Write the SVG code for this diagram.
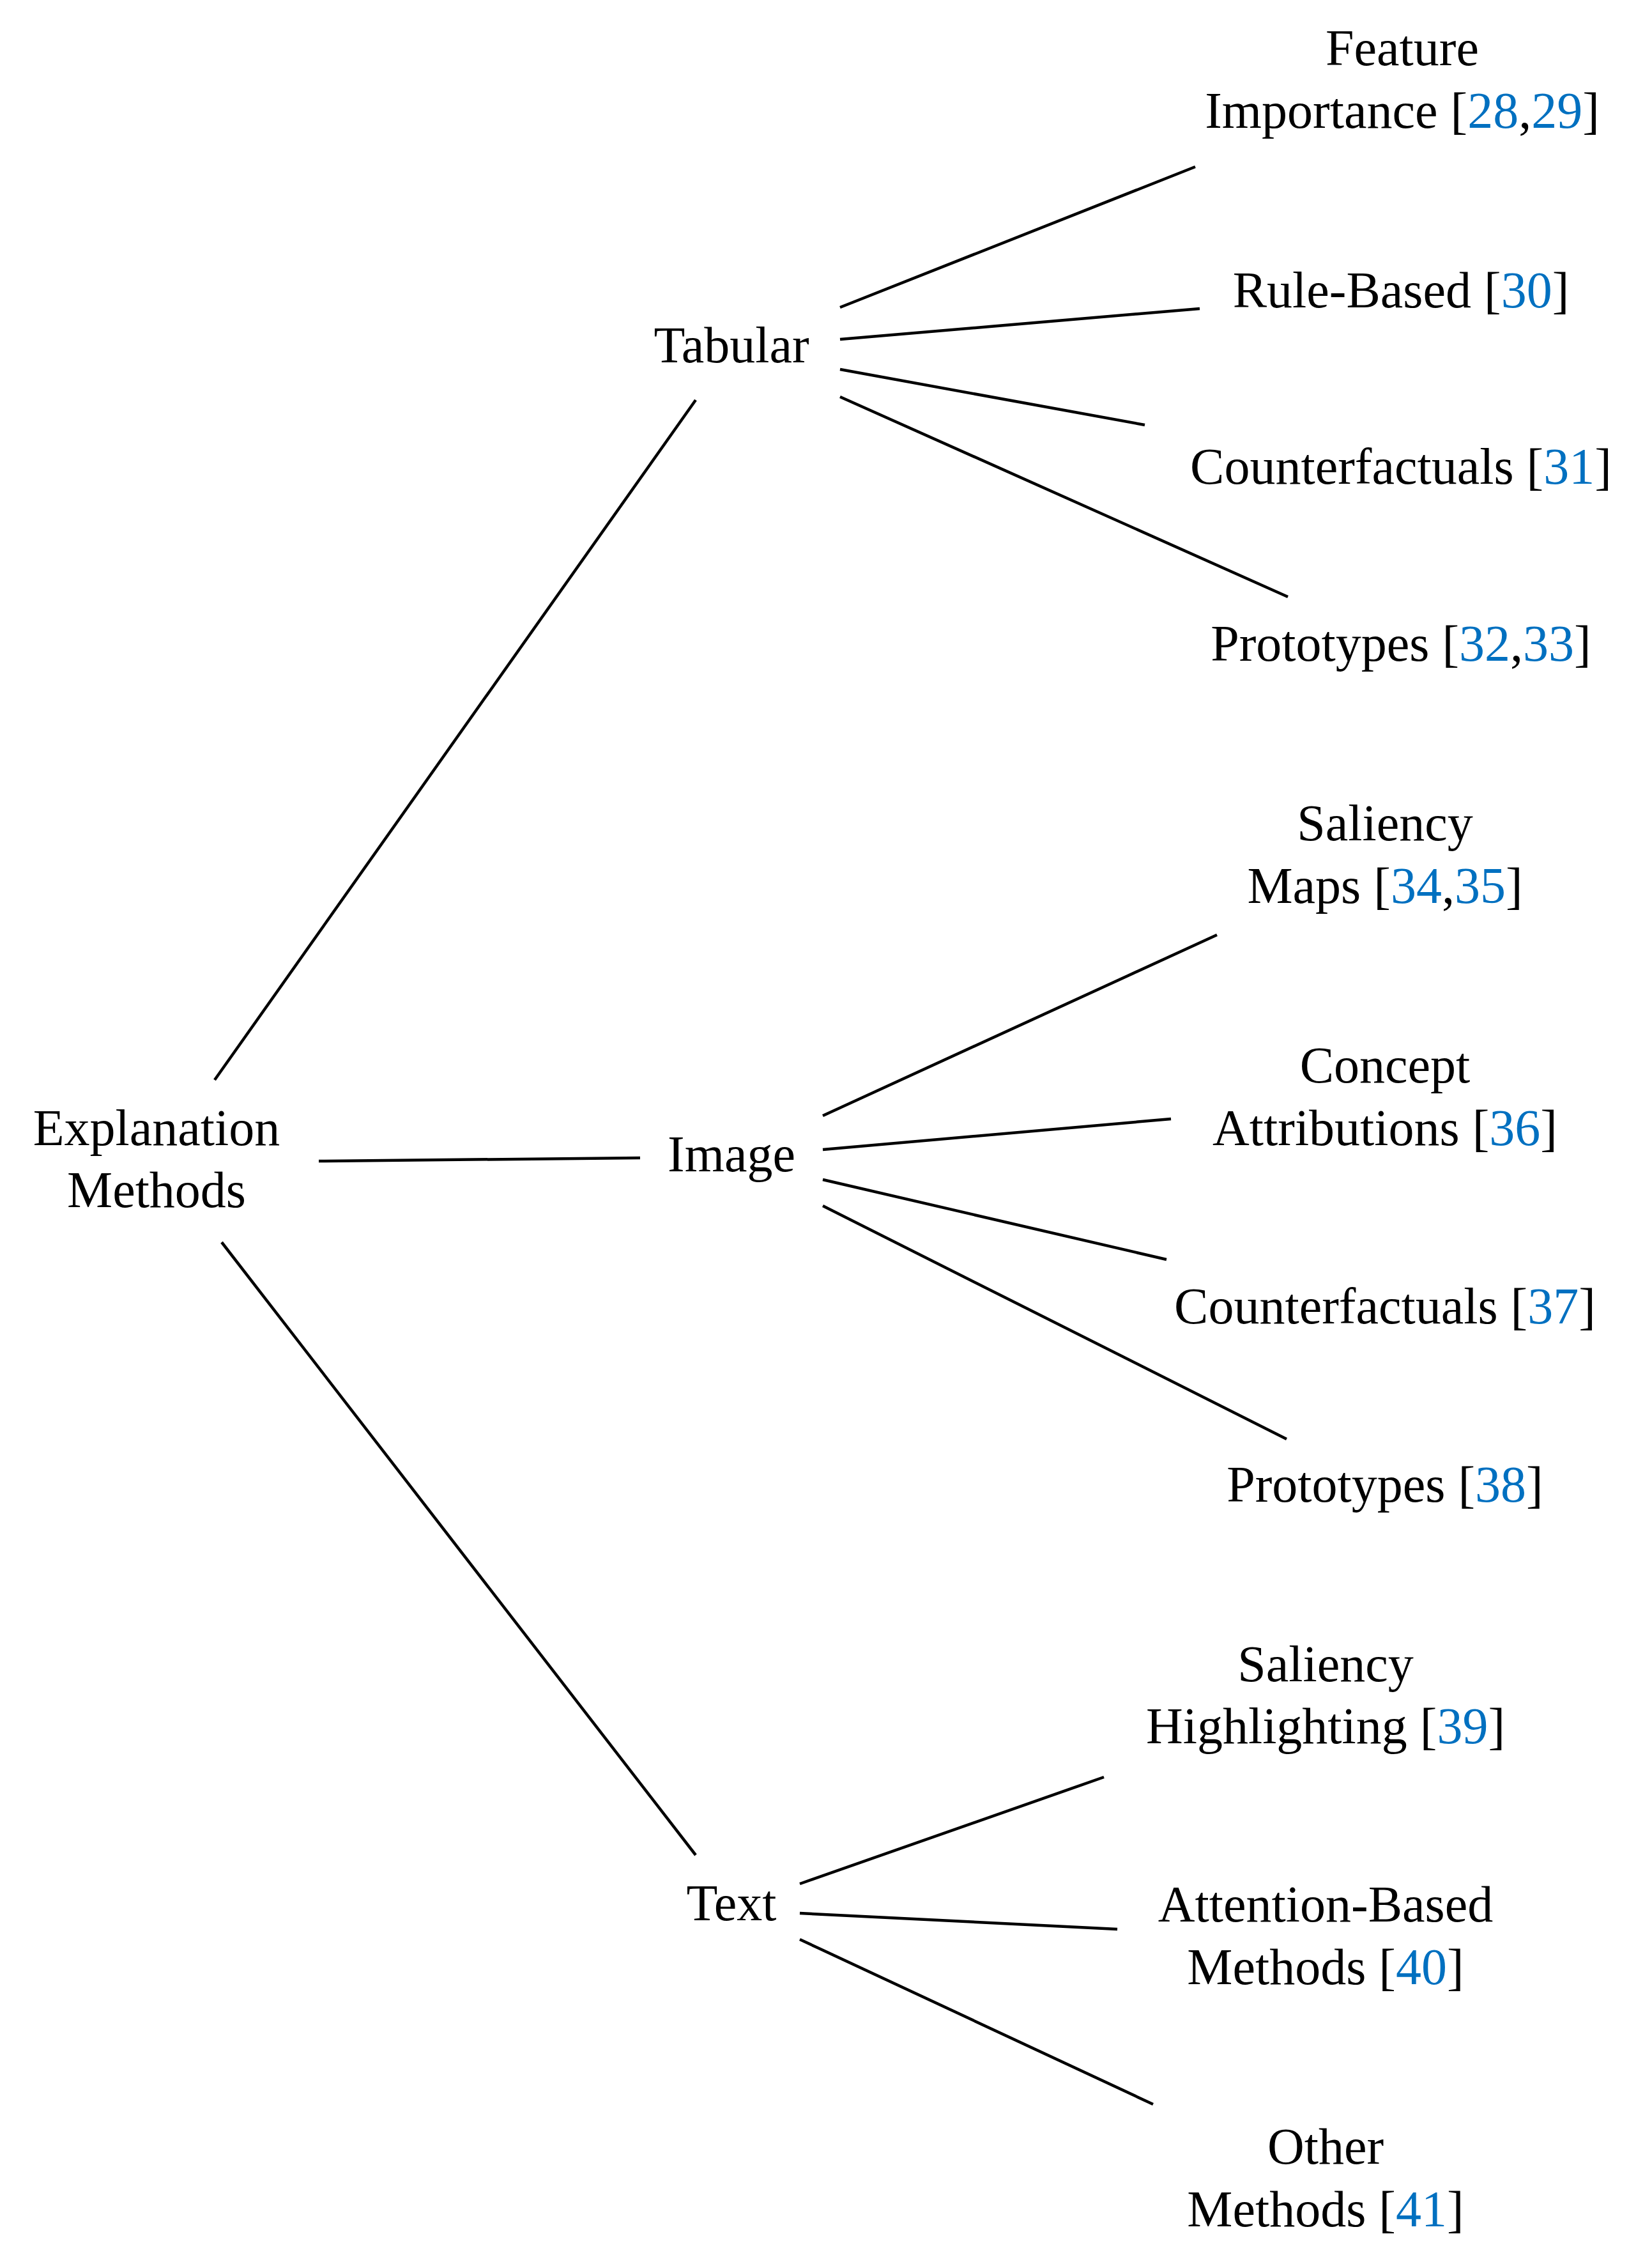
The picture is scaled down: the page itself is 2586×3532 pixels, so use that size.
<svg xmlns="http://www.w3.org/2000/svg" width="2586" height="3532" viewBox="0 0 2586 3532">
<style>
text{font-family:"Liberation Serif","Times New Roman",serif;font-size:80px;fill:#000;text-anchor:middle}
.c{fill:#0070c0}
line{stroke:#000;stroke-width:4.5}
</style>
<rect width="2586" height="3532" fill="#fff"/>
<g id="connectors">
<line x1="336" y1="1690" x2="1089" y2="626"/>
<line x1="499" y1="1817" x2="1002" y2="1812"/>
<line x1="347" y1="1944" x2="1089" y2="2903"/>
<line x1="1315" y1="481" x2="1871" y2="261"/>
<line x1="1315" y1="531" x2="1878" y2="483"/>
<line x1="1315" y1="578" x2="1792" y2="665"/>
<line x1="1315" y1="621" x2="2016" y2="934"/>
<line x1="1288" y1="1746" x2="1905" y2="1463"/>
<line x1="1288" y1="1799" x2="1833" y2="1751"/>
<line x1="1288" y1="1846" x2="1826" y2="1971"/>
<line x1="1288" y1="1887" x2="2014" y2="2252"/>
<line x1="1252" y1="2948" x2="1728" y2="2781"/>
<line x1="1252" y1="2994" x2="1749" y2="3019"/>
<line x1="1252" y1="3035" x2="1805" y2="3293"/>
</g>
<g id="root"><text x="245" y="1792">Explanation</text><text x="245" y="1889">Methods</text></g>
<g id="tabular"><text x="1145" y="567">Tabular</text></g>
<g id="image"><text x="1145" y="1833">Image</text></g>
<g id="text"><text x="1145" y="3005">Text</text></g>
<g id="t1"><text x="2195" y="102">Feature</text><text x="2195" y="200">Importance [<tspan class="c">28</tspan>,<tspan class="c">29</tspan>]</text></g>
<g id="t2"><text x="2193" y="481">Rule-Based [<tspan class="c">30</tspan>]</text></g>
<g id="t3"><text x="2193" y="757">Counterfactuals [<tspan class="c">31</tspan>]</text></g>
<g id="t4"><text x="2193" y="1034">Prototypes [<tspan class="c">32</tspan>,<tspan class="c">33</tspan>]</text></g>
<g id="i1"><text x="2168" y="1315">Saliency</text><text x="2168" y="1413">Maps [<tspan class="c">34</tspan>,<tspan class="c">35</tspan>]</text></g>
<g id="i2"><text x="2168" y="1694">Concept</text><text x="2168" y="1792">Attributions [<tspan class="c">36</tspan>]</text></g>
<g id="i3"><text x="2168" y="2071">Counterfactuals [<tspan class="c">37</tspan>]</text></g>
<g id="i4"><text x="2168" y="2350">Prototypes [<tspan class="c">38</tspan>]</text></g>
<g id="x1"><text x="2075" y="2631">Saliency</text><text x="2075" y="2728">Highlighting [<tspan class="c">39</tspan>]</text></g>
<g id="x2"><text x="2075" y="3007">Attention-Based</text><text x="2075" y="3105">Methods [<tspan class="c">40</tspan>]</text></g>
<g id="x3"><text x="2075" y="3386">Other</text><text x="2075" y="3484">Methods [<tspan class="c">41</tspan>]</text></g>
</svg>
